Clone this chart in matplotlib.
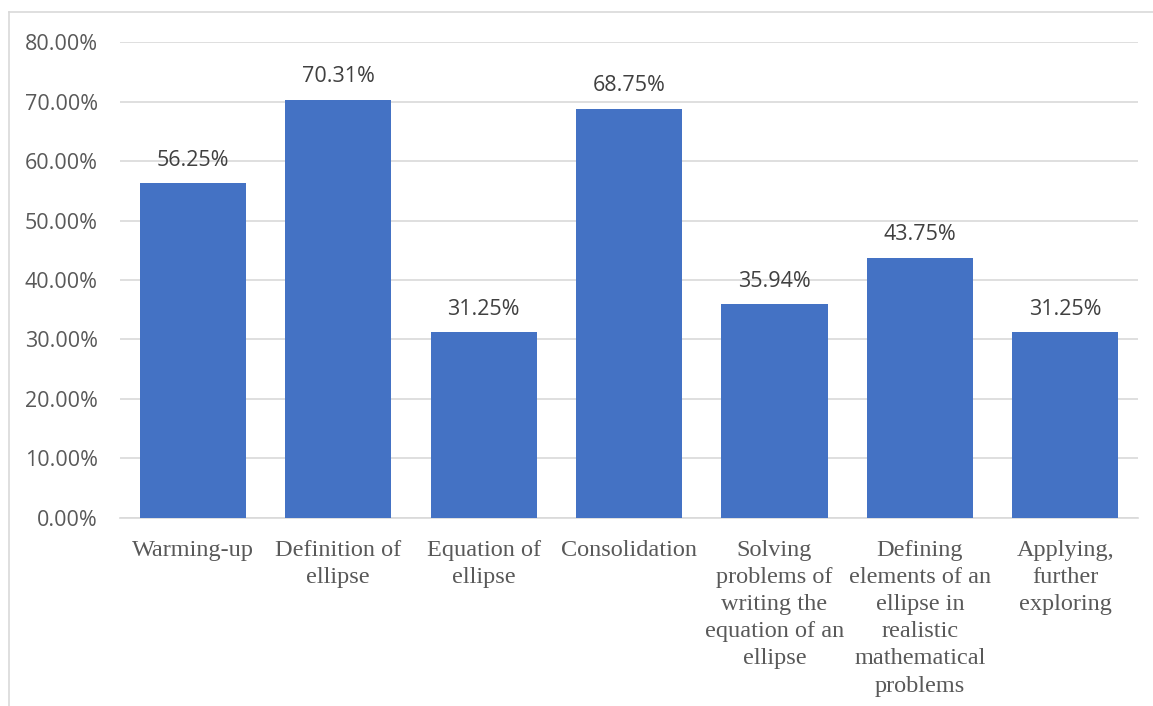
import matplotlib.pyplot as plt
from matplotlib.lines import Line2D

# datos del grafico
categorias = ['Warming-up', 'Definition of\nellipse', 'Equation of\nellipse',
              'Consolidation',
              'Solving\nproblems of\nwriting the\nequation of an\nellipse',
              'Defining\nelements of an\nellipse in\nrealistic\nmathematical\nproblems',
              'Applying,\nfurther\nexploring']
valores = [56.25, 70.31, 31.25, 68.75, 35.94, 43.75, 31.25]
ticks_y = [0, 10, 20, 30, 40, 50, 60, 70, 80]

azul = '#4472C4'
gris = '#595959'
linea = '#D9D9D9'

fig = plt.figure(figsize=(11.53, 7.06), dpi=100)
ax = fig.add_axes([0.1041, 0.2663, 0.8829, 0.6742])

x = range(len(categorias))
ax.bar(x, valores, width=0.73, color=azul, zorder=3)

# etiquetas de valores encima de las barras
for xi, v in zip(x, valores):
    ax.annotate(f'{v:.2f}%', (xi, v), xytext=(0, 9), textcoords='offset points',
                ha='center', va='bottom', fontsize=15.5, color='#404040',
                family='Open Sans')

ax.set_xlim(-0.5, len(categorias) - 0.5)
ax.set_ylim(0, 80)
ax.set_yticks(ticks_y)
ax.set_yticklabels([f'{t:.2f}%' for t in ticks_y], family='Open Sans',
                   fontsize=15.5, color=gris)
ax.set_xticks(list(x))
ax.set_xticklabels(categorias, family='Liberation Serif', fontsize=17.5,
                   color=gris, linespacing=1.39, va='top')
ax.tick_params(axis='both', length=0)
ax.tick_params(axis='x', pad=15.5)
ax.tick_params(axis='y', pad=16)

ax.grid(axis='y', color=linea, linewidth=1.2, zorder=0)
for s in ['top', 'right', 'left']:
    ax.spines[s].set_visible(False)
ax.spines['bottom'].set_color(linea)
ax.spines['bottom'].set_linewidth(1.2)

# borde del area del grafico (solo se ve arriba y a la izquierda)
fig.add_artist(Line2D([9 / 1153, 9 / 1153], [0, 1 - 12 / 706],
                      transform=fig.transFigure, color=linea, lw=1.2))
fig.add_artist(Line2D([9 / 1153, 1], [1 - 12 / 706, 1 - 12 / 706],
                      transform=fig.transFigure, color=linea, lw=1.2))

fig.savefig('out.png', dpi=100)
